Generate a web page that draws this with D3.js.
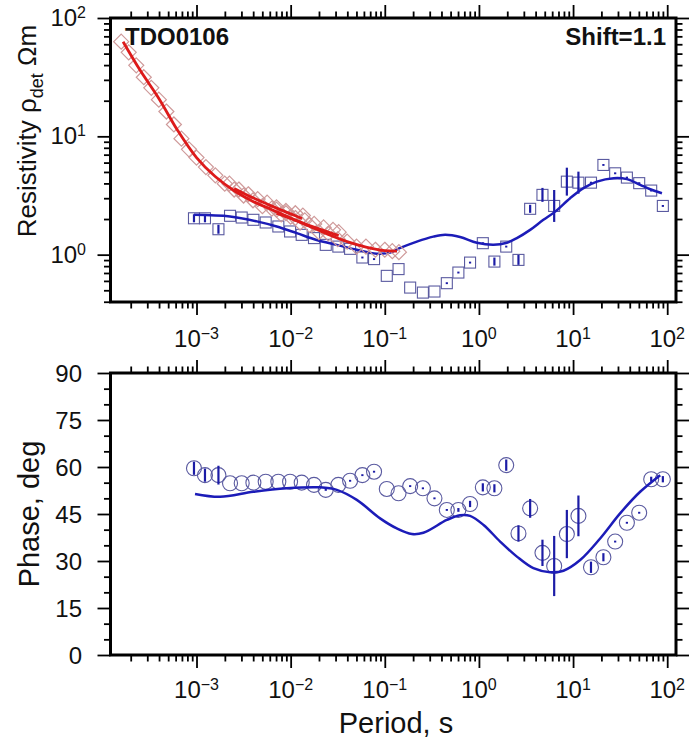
<!DOCTYPE html>
<html><head><meta charset="utf-8">
<script src="https://cdn.jsdelivr.net/npm/d3@7"></script>
<style>
body{margin:0;background:#fff;}
text{font-family:"Liberation Sans",Arial,Helvetica,sans-serif;fill:#111;}
</style></head><body>
<svg id="chart" width="689" height="749"></svg>
<script>
// ---------- data ----------
const periods = [9.40e-4,1.23e-3,1.71e-3,2.27e-3,3.02e-3,4.02e-3,5.43e-3,7.40e-3,9.86e-3,1.31e-2,1.77e-2,2.36e-2,3.21e-2,4.28e-2,5.78e-2,7.69e-2,0.105,0.140,0.186,0.254,0.337,0.456,0.605,0.805,1.10,1.46,1.95,2.63,3.50,4.73,6.30,8.59,11.4,15.5,21.0,28.0,37.3,50.4,67.6,89.9];
const rhoDet = [2.03,2.03,1.64,2.13,2.06,1.97,1.87,1.73,1.57,1.47,1.38,1.21,1.17,1.12,0.946,0.917,0.662,0.755,0.527,0.478,0.488,0.574,0.706,0.857,1.25,0.874,1.17,0.903,2.44,3.20,2.58,4.14,4.06,4.06,5.73,4.87,4.48,4.02,3.48,2.58];
const rhoErrLog = [0.034,0.034,0.038,0,0,0,0,0,0,0,0,0,0,0,0.008,0.008,0,0,0,0,0,0.008,0.008,0.008,0.008,0.034,0.008,0.042,0.034,0.059,0.135,0.118,0.093,0.008,0.008,0.008,0.008,0.008,0.008,0.008];
const phaseDet = [59.6,57.4,57.4,54.8,54.8,55.0,55.3,55.3,55.3,55.0,54.3,52.7,54.3,55.6,57.4,58.5,53.0,51.6,53.9,53.2,50.0,46.3,46.3,48.2,53.5,53.2,60.6,38.8,46.8,32.6,28.4,38.6,44.4,28.0,31.2,36.2,42.2,45.4,56.1,56.1];
const phaseErr = [2.1,2.1,3.0,0,0,0,0,0,0,0,0,0.3,0,0.3,0.3,0.3,0,0,0.3,0.3,0.3,0.3,0.6,1.0,1.3,1.3,1.8,2.6,3.0,4.2,9.6,7.7,6.5,1.8,1.3,0.3,0.3,0.3,0.8,1.0];

const modelRhoT = [9.40e-4,2.27e-3,4.37e-3,7.11e-3,1.16e-2,1.89e-2,3.09e-2,5.04e-2,8.22e-2,0.114,0.146,0.219,0.328,0.438,0.631,0.951,1.43,1.98,2.53,3.50,4.84,6.46,9.31,12.9,17.9,26.9,37.3,51.6,66.1,87.9];
const modelRho = [2.17,2.10,1.91,1.73,1.52,1.33,1.21,1.10,1.02,1.04,1.14,1.29,1.42,1.47,1.41,1.26,1.21,1.26,1.38,1.62,1.97,2.31,3.00,3.65,4.14,4.43,4.35,3.89,3.57,3.30];
const modelPhT = [9.64e-4,1.78e-3,4.02e-3,9.10e-3,2.05e-2,3.09e-2,5.04e-2,8.91e-2,0.134,0.194,0.257,0.456,0.631,0.805,1.12,1.68,2.53,3.79,5.71,7.91,11.9,19.4,31.6,51.6,84.3];
const modelPh = [51.4,50.5,52.1,53.2,53.5,52.7,49.5,43.6,40.4,38.6,39.0,43.1,44.6,44.4,41.5,36.2,31.4,27.7,26.4,26.9,30.3,37.2,45.2,52.1,57.4];

const redT = [1.585e-4,1.905e-4,2.291e-4,2.754e-4,3.311e-4,3.981e-4,4.786e-4,5.754e-4,6.918e-4,8.318e-4,1.0e-3,1.259e-3,1.585e-3,1.995e-3,2.512e-3,3.162e-3,3.981e-3,5.012e-3,6.310e-3,7.943e-3,1.0e-2,1.259e-2,1.585e-2,1.995e-2,2.512e-2,3.162e-2,3.981e-2,5.012e-2,6.310e-2,7.943e-2,0.1,0.1202,0.1413];
const redRho = [63.1,51.3,39.8,31.6,25.7,20.4,16.2,12.6,9.55,7.76,6.61,5.50,4.68,3.98,3.55,3.16,2.88,2.57,2.45,2.19,2.09,1.86,1.78,1.55,1.51,1.35,1.29,1.17,1.17,1.10,1.10,1.07,1.05];
const redAT = [2.239e-3,2.818e-3,3.548e-3,4.467e-3,5.623e-3,7.079e-3,8.913e-3,1.122e-2,1.349e-2];
const redARho = [3.98,3.55,3.24,2.95,2.75,2.51,2.34,2.24,2.14];
const redBT = [7.079e-3,8.913e-3,1.122e-2,1.413e-2,1.778e-2,2.239e-2,2.818e-2,3.236e-2];
const redBRho = [2.40,2.24,2.04,1.95,1.82,1.70,1.62,1.55];
const redLineT = [1.66e-4,2.51e-4,3.98e-4,6.31e-4,1.0e-3,1.58e-3,2.51e-3,3.98e-3,6.31e-3,1.0e-2,1.58e-2,2.51e-2,3.98e-2,6.31e-2,0.1,0.1349];
const redLineRho = [63.0,36.3,20.9,11.2,6.61,4.57,3.47,2.82,2.40,2.04,1.74,1.48,1.29,1.16,1.08,1.07];
const redLineAT = [2.512e-3,3.981e-3,6.310e-3,1.0e-2,1.318e-2];
const redLineARho = [3.63,3.02,2.57,2.21,2.02];
const redLineBT = [7.079e-3,1.0e-2,1.585e-2,2.512e-2,3.236e-2];
const redLineBRho = [2.24,2.02,1.76,1.55,1.45];

const xTickExps = [-3,-2,-1,0,1,2];
const rhoTickExps = [0,1,2];
const phaseTicks = [0,15,30,45,60,75,90];
const phaseMinor = [5,10,20,25,35,40,50,55,65,70,80,85];
const stationName = "TDO0106";
const shiftLabel = "Shift=1.1";

// ---------- layout ----------
const svg = d3.select("#chart");
const L = 110.5, R = 676;
const topT = 18, topB = 302, botT = 373, botB = 655;
const x = d3.scaleLog().domain([1.22e-4, 124]).range([L, R]);
const yR = d3.scaleLog().domain([0.398, 100]).range([topB, topT]);
const yP = d3.scaleLinear().domain([0, 90]).range([botB, botT]);

const MAJ = 13, MIN = 6.5;
const xMajor = xTickExps.map(e => Math.pow(10, e));
const xMinor = x.ticks().filter(v => !xMajor.some(m => Math.abs(m - v) / m < 1e-6));
const rMajor = rhoTickExps.map(e => Math.pow(10, e));
const rMinor = yR.ticks().filter(v => !rMajor.some(m => Math.abs(m - v) / m < 1e-6));

function drawAxis(axisFn, scale, vals, size, transform) {
  const g = svg.append("g").attr("transform", transform)
    .call(axisFn(scale).tickValues(vals).tickSize(size).tickSizeOuter(0).tickFormat(""));
  g.select(".domain").remove();
  g.selectAll(".tick line").attr("stroke", "#000").attr("stroke-width", 1.8);
  return g;
}
function panelAxes(yScale, yMaj, yMin, t, b) {
  drawAxis(d3.axisBottom, x, xMinor, MIN, `translate(0,${b})`);
  drawAxis(d3.axisBottom, x, xMajor, MAJ, `translate(0,${b})`);
  drawAxis(d3.axisTop, x, xMinor, MIN, `translate(0,${t})`);
  drawAxis(d3.axisTop, x, xMajor, MAJ, `translate(0,${t})`);
  drawAxis(d3.axisLeft, yScale, yMin, MIN, `translate(${L},0)`);
  drawAxis(d3.axisLeft, yScale, yMaj, MAJ, `translate(${L},0)`);
  drawAxis(d3.axisRight, yScale, yMin, MIN, `translate(${R},0)`);
  drawAxis(d3.axisRight, yScale, yMaj, MAJ, `translate(${R},0)`);
}
panelAxes(yR, rMajor, rMinor, topT, topB);
panelAxes(yP, phaseTicks, phaseMinor, botT, botB);

// tick labels
function powLabel(g, px, py, exp, anchor) {
  const t = g.append("text").attr("x", px).attr("y", py).attr("text-anchor", anchor)
    .attr("font-size", 24);
  t.append("tspan").text("10");
  t.append("tspan").attr("font-size", 16).attr("dy", -8).text(String(exp).replace("-", "\u2212"));
}
const lab = svg.append("g");
xTickExps.forEach((e, i) => { powLabel(lab, x(xMajor[i]), 347, e, "middle"); });
xTickExps.forEach((e, i) => { powLabel(lab, x(xMajor[i]), 698, e, "middle"); });
rhoTickExps.forEach((e, i) => { powLabel(lab, 86, yR(rMajor[i]) + 8, e, "end"); });
phaseTicks.forEach(v => {
  lab.append("text").attr("x", 82).attr("y", yP(v) + 8.5).attr("text-anchor", "end")
    .attr("font-size", 24).text(v);
});

// axis titles
const rt = svg.append("text").attr("transform", "translate(36,131) rotate(-90)")
  .attr("text-anchor", "middle").attr("font-size", 26);
rt.append("tspan").text("Resistivity \u03c1");
rt.append("tspan").attr("font-size", 18).attr("dy", 7).text("det");
rt.append("tspan").attr("dy", -7).text(" \u03a9m");
svg.append("text").attr("transform", "translate(39,514) rotate(-90)")
  .attr("text-anchor", "middle").attr("font-size", 29).text("Phase, deg");
svg.append("text").attr("x", 396).attr("y", 733).attr("text-anchor", "middle")
  .attr("font-size", 29).text("Period, s");

// ---------- marks ----------
const ERR = "#1c1ca6", SQ = "#5a5aa0", BLUE = "#1c1cb8", RED = "#dd1a1a", DIA = "#cf9a9a";

const gTop = svg.append("g");
const sqData = periods.map((p, i) => ({p, r: rhoDet[i], e: rhoErrLog[i]}));
gTop.selectAll("rect.sq").data(sqData).join("rect").attr("class", "sq")
  .attr("x", d => x(d.p) - 5.5).attr("y", d => yR(d.r) - 5.5)
  .attr("width", 11).attr("height", 11)
  .attr("fill", "none").attr("stroke", SQ).attr("stroke-width", 1.1);
gTop.selectAll("line.er").data(sqData.filter(d => d.e > 0)).join("line").attr("class", "er")
  .attr("x1", d => x(d.p)).attr("x2", d => x(d.p))
  .attr("y1", d => yR(d.r * Math.pow(10, d.e))).attr("y2", d => yR(d.r / Math.pow(10, d.e)))
  .attr("stroke", ERR).attr("stroke-width", 2.2);

const line = d3.line().curve(d3.curveCatmullRom.alpha(0.5));
gTop.append("path").attr("d", line(modelRhoT.map((t, i) => [x(t), yR(modelRho[i])])))
  .attr("fill", "none").attr("stroke", BLUE).attr("stroke-width", 2.5);

function diamonds(T, Rh) {
  gTop.append("g").selectAll("path").data(T.map((t, i) => [x(t), yR(Rh[i])])).join("path")
    .attr("d", d => `M${d[0]},${d[1] - 7.5}L${d[0] + 7.5},${d[1]}L${d[0]},${d[1] + 7.5}L${d[0] - 7.5},${d[1]}Z`)
    .attr("fill", "none").attr("stroke", DIA).attr("stroke-width", 1.2);
}
diamonds(redT, redRho);
diamonds(redAT, redARho);
diamonds(redBT, redBRho);
[[redLineT, redLineRho], [redLineAT, redLineARho], [redLineBT, redLineBRho]].forEach(([T, Rh]) => {
  gTop.append("path").attr("d", line(T.map((t, i) => [x(t), yR(Rh[i])])))
    .attr("fill", "none").attr("stroke", RED).attr("stroke-width", 2.8);
});

// bottom panel
const gBot = svg.append("g");
const phData = periods.map((p, i) => ({p, v: phaseDet[i], e: phaseErr[i]}));
gBot.selectAll("circle").data(phData).join("circle")
  .attr("cx", d => x(d.p)).attr("cy", d => yP(d.v)).attr("r", 7.5)
  .attr("fill", "none").attr("stroke", SQ).attr("stroke-width", 1.1);
gBot.selectAll("line.er").data(phData.filter(d => d.e > 0)).join("line").attr("class", "er")
  .attr("x1", d => x(d.p)).attr("x2", d => x(d.p))
  .attr("y1", d => yP(d.v + d.e)).attr("y2", d => yP(d.v - d.e))
  .attr("stroke", ERR).attr("stroke-width", 2.2);
gBot.append("path").attr("d", line(modelPhT.map((t, i) => [x(t), yP(modelPh[i])])))
  .attr("fill", "none").attr("stroke", BLUE).attr("stroke-width", 2.5);

// frames
[[topT, topB], [botT, botB]].forEach(([t, b]) => {
  svg.append("rect").attr("x", L).attr("y", t).attr("width", R - L).attr("height", b - t)
    .attr("fill", "none").attr("stroke", "#000").attr("stroke-width", 3);
});

// annotations
svg.append("text").attr("x", 125).attr("y", 45).attr("font-size", 24).attr("font-weight", "bold")
  .text(stationName);
svg.append("text").attr("x", 666).attr("y", 45).attr("font-size", 24).attr("font-weight", "bold")
  .attr("text-anchor", "end").text(shiftLabel);
</script>
</body></html>
